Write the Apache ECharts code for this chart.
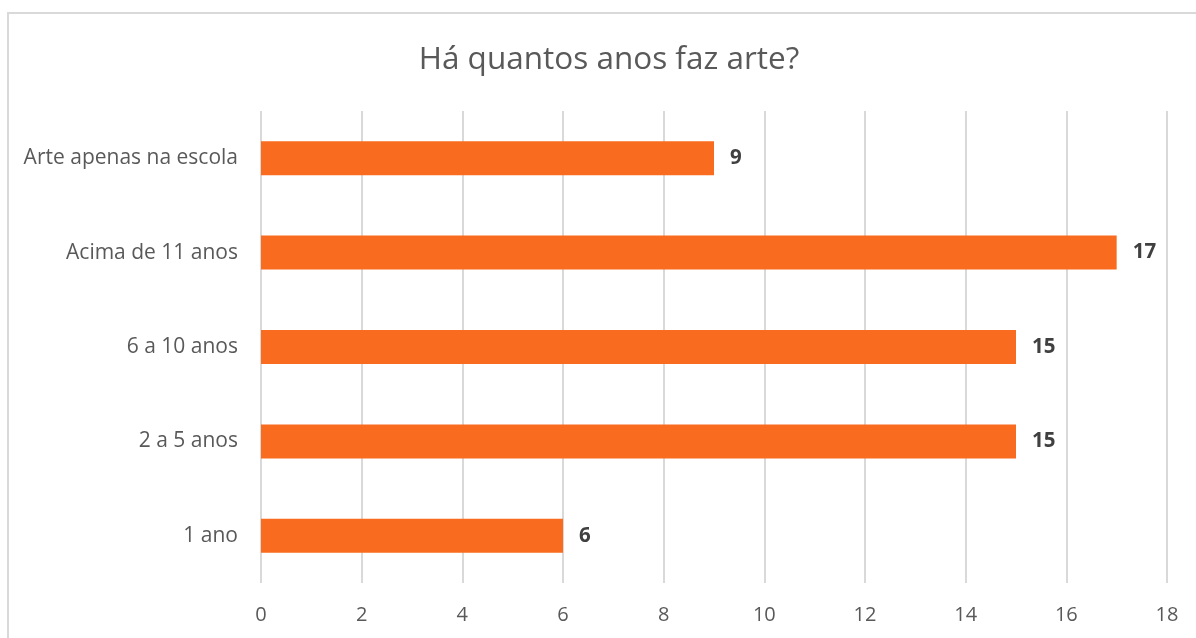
<!DOCTYPE html>
<html><head><meta charset="utf-8">
<script src="https://cdn.jsdelivr.net/npm/echarts@6/dist/echarts.min.js"></script>
<style>
html,body{margin:0;padding:0;background:#fff;}
#frame{position:absolute;left:7px;top:12px;width:1189px;height:626px;border-left:2px solid #d9d9d9;border-top:2px solid #d9d9d9;box-sizing:border-box;}
#chart{position:absolute;left:0;top:0;width:1196px;height:638px;}
</style></head>
<body>
<div id="frame"></div>
<div id="chart"></div>
<script>
const title = 'Há quantos anos faz arte?';
const categories = ['1 ano', '2 a 5 anos', '6 a 10 anos', 'Acima de 11 anos', 'Arte apenas na escola'];
const values = [6, 15, 15, 17, 9];
const xMin = 0, xMax = 18, xStep = 2;

const chart = echarts.init(document.getElementById('chart'), null, {renderer: 'canvas'});
chart.setOption({
  animation: false,
  title: {
    text: title, left: 604, textAlign: 'center', top: 39,
    textStyle: {fontFamily: 'Open Sans', fontWeight: 'normal', fontSize: 31.5, color: '#595959'}
  },
  grid: {left: 261, right: 29, top: 111, bottom: 55, containLabel: false},
  xAxis: {
    type: 'value', min: xMin, max: xMax, interval: xStep,
    axisLine: {show: false}, axisTick: {show: false},
    splitLine: {show: true, lineStyle: {color: '#d9d9d9', width: 2}},
    axisLabel: {fontFamily: 'Open Sans', fontSize: 20, color: '#595959', margin: 22}
  },
  yAxis: {
    type: 'category', data: categories,
    axisLine: {show: false}, axisTick: {show: false},
    axisLabel: {fontFamily: 'Open Sans', fontSize: 21, color: '#595959', margin: 23}
  },
  series: [{
    type: 'bar', data: values, barWidth: '36%',
    itemStyle: {color: '#F96B1E'},
    label: {show: true, position: 'right', distance: 16, fontFamily: 'Open Sans', fontWeight: 'bold', fontSize: 20.5, color: '#404040'}
  }]
});
</script>
</body></html>
